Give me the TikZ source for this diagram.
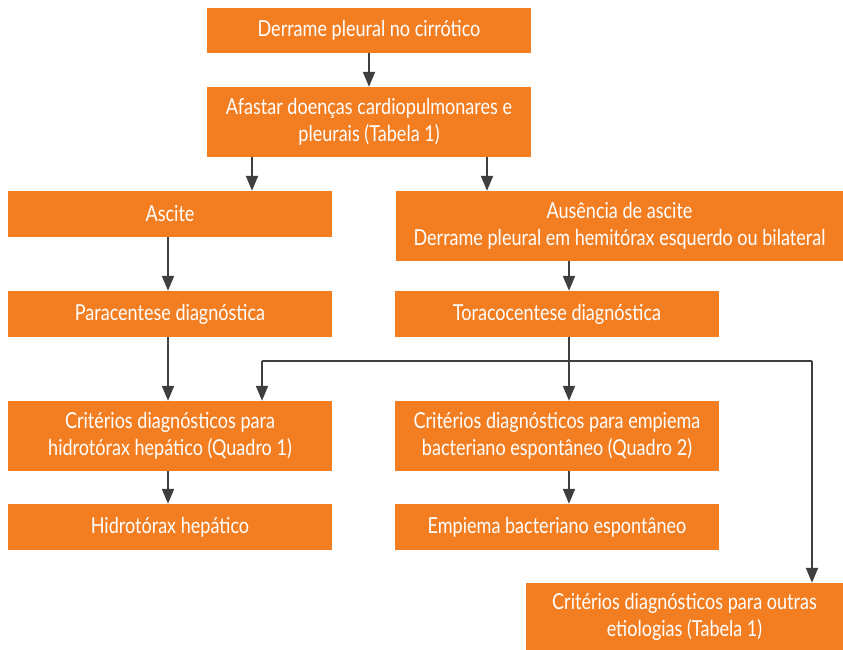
\documentclass[tikz,border=0pt]{standalone}
\usepackage{fontspec}
\setmainfont[FakeStretch=0.82]{Lato}
\usetikzlibrary{arrows.meta}
\definecolor{boxorange}{HTML}{F37E22}
\definecolor{linegray}{HTML}{3F3F3F}
\tikzset{
  flowbox/.style={fill=boxorange, text=white, inner sep=0pt, align=center,
    font=\fontsize{22}{27}\selectfont},
  arr/.style={draw=linegray, line width=2pt,
    -{Triangle[length=15pt,width=12pt]}},
  conn/.style={draw=linegray, line width=2pt},
}
\begin{document}
\begin{tikzpicture}[x=1pt,y=-1pt]
\useasboundingbox (0,0) rectangle (843,650);
% boxes
\node[flowbox, minimum width=324pt, minimum height=45pt] (b1) at (369,30.5) {Derrame pleural no cirrótico};
\node[flowbox, minimum width=324pt, minimum height=70pt] (b2) at (369,122) {Afastar doenças cardiopulmonares e\\pleurais (Tabela 1)};
\node[flowbox, minimum width=324pt, minimum height=46pt] (b3) at (170,214) {Ascite};
\node[flowbox, minimum width=447pt, minimum height=70pt] (b4) at (619.5,226) {Ausência de ascite\\Derrame pleural em hemitórax esquerdo ou bilateral};
\node[flowbox, minimum width=324pt, minimum height=46pt] (b5) at (170,314) {Paracentese diagnóstica};
\node[flowbox, minimum width=324pt, minimum height=46pt] (b6) at (557,314) {Toracocentese diagnóstica};
\node[flowbox, minimum width=324pt, minimum height=70pt] (b7) at (170,436) {Critérios diagnósticos para\\hidrotórax hepático (Quadro 1)};
\node[flowbox, minimum width=324pt, minimum height=70pt] (b8) at (557,436) {Critérios diagnósticos para empiema\\bacteriano espontâneo (Quadro 2)};
\node[flowbox, minimum width=324pt, minimum height=46pt] (b9) at (170,527) {Hidrotórax hepático};
\node[flowbox, minimum width=324pt, minimum height=46pt] (b10) at (557,527) {Empiema bacteriano espontâneo};
\node[flowbox, minimum width=317pt, minimum height=67pt] (b11) at (684.5,616.5) {Critérios diagnósticos para outras\\etiologias (Tabela 1)};
% connector columns and branch point
\coordinate (xa) at (252,0);
\coordinate (xb) at (487,0);
\coordinate (xc) at (168,0);
\coordinate (xd) at (569,0);
\coordinate (xe) at (262,0);
\coordinate (xf) at (812,0);
\coordinate (split) at (569,361);
% connectors
\draw[arr] (b1) -- (b2);
\draw[arr] (b2.south -| xa) -- (b3.north -| xa);
\draw[arr] (b2.south -| xb) -- (b4.north -| xb);
\draw[arr] (b3.south -| xc) -- (b5.north -| xc);
\draw[arr] (b4.south -| xd) -- (b6.north -| xd);
\draw[arr] (b5.south -| xc) -- (b7.north -| xc);
\draw[arr] (b6.south -| xd) -- (b8.north -| xd);
\draw[arr] (split -| xe) -- (b7.north -| xe);
\draw[arr] (split -| xf) -- (b11.north -| xf);
\draw[conn] (split -| xe) -- (split -| xf);
\draw[arr] (b7.south -| xc) -- (b9.north -| xc);
\draw[arr] (b8.south -| xd) -- (b10.north -| xd);
\end{tikzpicture}
\end{document}
